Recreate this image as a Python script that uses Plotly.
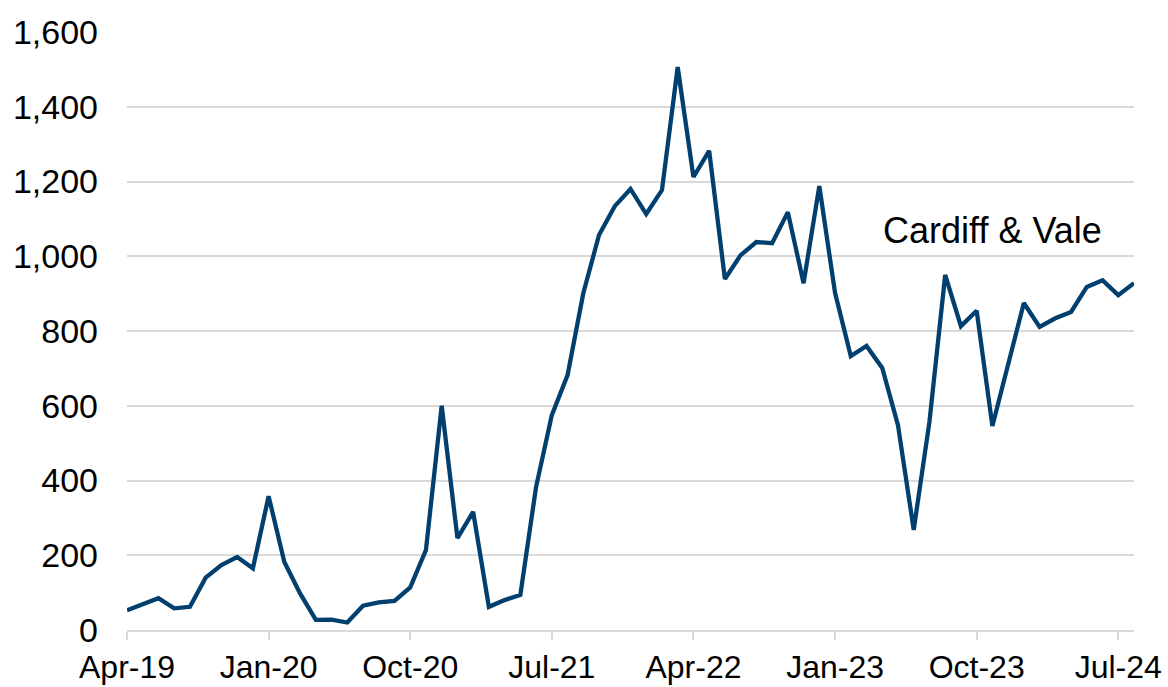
import pandas as pd
import plotly.graph_objects as go

# Monthly values, Apr-2019 .. Aug-2024
months = [d.strftime("%b-%y") for d in pd.date_range("2019-04-01", "2024-08-01", freq="MS")]
values = [
    53, 70, 85, 58, 62, 140, 174, 195, 165,          # Apr-19 .. Dec-19
    358, 182, 98, 27, 28, 20, 65, 74, 78,            # Jan-20 .. Sep-20
    114, 214, 600, 246, 316, 62, 80, 94, 383,        # Oct-20 .. Jun-21
    575, 682, 901, 1057, 1134, 1180, 1113, 1177, 1506,  # Jul-21 .. Mar-22
    1212, 1282, 939, 1003, 1038, 1035, 1118, 928, 1188,  # Apr-22 .. Dec-22
    902, 733, 760, 701, 548, 268, 557, 950, 813,     # Jan-23 .. Sep-23
    854, 546, 709, 875, 811, 834, 851, 918, 936,     # Oct-23 .. Jun-24
    896, 928,                                        # Jul-24 .. Aug-24
]
tick_labels = ["Apr-19", "Jan-20", "Oct-20", "Jul-21", "Apr-22", "Jan-23", "Oct-23", "Jul-24"]
y_ticks = [0, 200, 400, 600, 800, 1000, 1200, 1400, 1600]
series_name = "Cardiff & Vale"

FONT = "Liberation Sans, Arial, sans-serif"
GRID = "#d9d9d9"

fig = go.Figure()
fig.add_trace(go.Scatter(
    x=months, y=values, mode="lines", name=series_name,
    line=dict(color="#003f6e", width=4.3),
))

fig.add_annotation(
    x=months[55], y=1068, text=series_name, showarrow=False,
    xanchor="center", yanchor="middle",
    font=dict(family=FONT, size=36, color="#000000"),
)

fig.update_layout(
    width=1168, height=687,
    margin=dict(l=127, r=34, t=32, b=57),
    paper_bgcolor="white", plot_bgcolor="white",
    showlegend=False,
    font=dict(family=FONT, size=34, color="#000000"),
)
fig.update_xaxes(
    type="category", range=[0, len(months) - 1],
    tickmode="array", tickvals=tick_labels, ticktext=tick_labels,
    showgrid=False, showline=True, linecolor=GRID, linewidth=2,
    ticks="outside", ticklen=8, tickwidth=2, tickcolor=GRID,
    tickangle=0, tickfont=dict(size=32), automargin=False,
)
fig.update_yaxes(
    range=[0, 1600], tickmode="array", tickvals=y_ticks,
    tickformat=",", showgrid=True, gridcolor=GRID, gridwidth=2,
    zeroline=False, showline=False, ticks="", ticklabelstandoff=28,
    tickfont=dict(size=34), automargin=False,
)

fig.write_html(
    "out.html",
    config={"displayModeBar": False},
    post_script="document.body.style.margin='0';document.body.style.overflow='hidden';",
)
